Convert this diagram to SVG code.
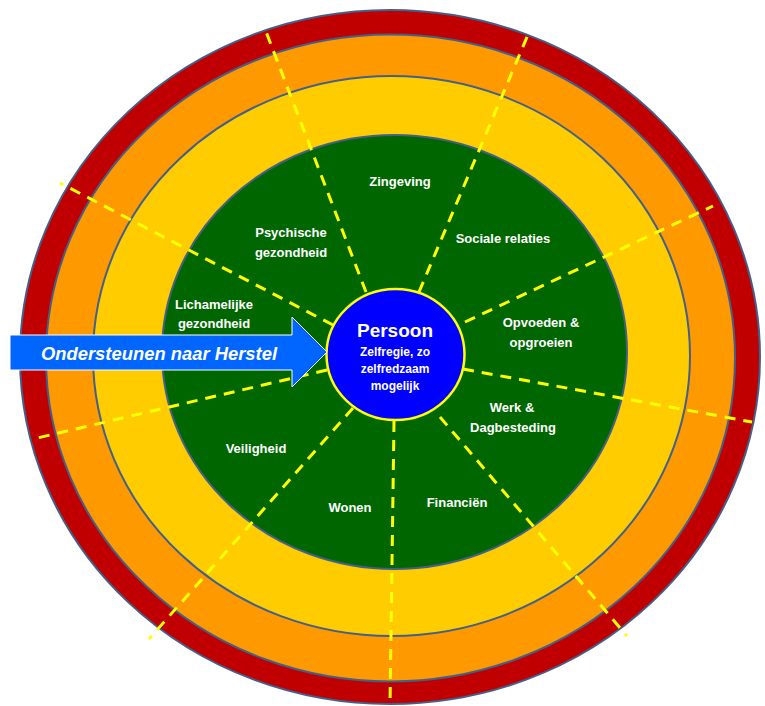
<svg xmlns="http://www.w3.org/2000/svg" width="765" height="706" viewBox="0 0 765 706">
<style>
.ring{stroke:#42618a;stroke-width:2}
.dash{stroke:#ffff00;stroke-width:3;stroke-dasharray:11 8;fill:none}
.lbl{font-family:"Liberation Sans",Arial,sans-serif;font-weight:bold;font-size:13px;fill:#ffffff;text-anchor:middle}
.ctr{font-family:"Liberation Sans",Arial,sans-serif;font-weight:bold;fill:#ffffff;text-anchor:middle}
</style>
<rect width="765" height="706" fill="#ffffff"/>
<g id="rings">
<ellipse id="ring-red" class="ring" cx="390" cy="357" rx="370" ry="347" fill="#c00000"/>
<ellipse id="ring-orange" class="ring" cx="390.5" cy="358" rx="344.5" ry="323.5" fill="#ff9900"/>
<ellipse id="ring-yellow" class="ring" cx="391.5" cy="356" rx="298.5" ry="280" fill="#ffcc00"/>
<ellipse id="ring-green" class="ring" cx="394.5" cy="352" rx="232.5" ry="217" fill="#006600"/>
</g>
<g id="connectors">
<line class="dash" x1="366" y1="292" x2="265" y2="29"/>
<line class="dash" x1="419" y1="292" x2="530" y2="30"/>
<line class="dash" x1="465" y1="322" x2="713" y2="206"/>
<line class="dash" x1="463" y1="369" x2="752" y2="422"/>
<line class="dash" x1="440" y1="417" x2="627" y2="636"/>
<line class="dash" x1="394" y1="421" x2="390" y2="706"/>
<line class="dash" x1="353" y1="408" x2="149" y2="639"/>
<line class="dash" x1="327" y1="370" x2="33" y2="439"/>
<line class="dash" x1="333" y1="325" x2="60" y2="183"/>
</g>
<g id="zingeving"><text class="lbl" x="400" y="186">Zingeving</text></g>
<g id="sociale-relaties"><text class="lbl" x="503" y="243">Sociale relaties</text></g>
<g id="opvoeden"><text class="lbl" x="541" y="327">Opvoeden &amp;</text><text class="lbl" x="541" y="347">opgroeien</text></g>
<g id="werk"><text class="lbl" x="512" y="412">Werk &amp;</text><text class="lbl" x="513" y="432">Dagbesteding</text></g>
<g id="financien"><text class="lbl" x="457" y="507">Financiën</text></g>
<g id="wonen"><text class="lbl" x="350" y="512">Wonen</text></g>
<g id="veiligheid"><text class="lbl" x="256" y="453">Veiligheid</text></g>
<g id="lichamelijke"><text class="lbl" x="214" y="309">Lichamelijke</text><text class="lbl" x="214" y="328">gezondheid</text></g>
<g id="psychische"><text class="lbl" x="291" y="237">Psychische</text><text class="lbl" x="291" y="257">gezondheid</text></g>
<g id="persoon">
<ellipse cx="395.5" cy="354.5" rx="69" ry="65.5" fill="#0000ff" stroke="#ffff00" stroke-width="2.5"/>
<text class="ctr" x="395" y="337" font-size="19">Persoon</text>
<text class="ctr" x="395" y="356" font-size="12">Zelfregie, zo</text>
<text class="ctr" x="395" y="373" font-size="12">zelfredzaam</text>
<text class="ctr" x="395" y="390" font-size="12">mogelijk</text>
</g>
<g id="arrow">
<polygon points="10,335 292,335 292,317 327,352 292,387 292,370 10,370" fill="#0066ff" stroke="#ffffff" stroke-width="1"/>
<text x="159" y="360" font-family="'Liberation Sans',Arial,sans-serif" font-weight="bold" font-style="italic" font-size="18.4" fill="#ffffff" text-anchor="middle">Ondersteunen naar Herstel</text>
</g>
</svg>
